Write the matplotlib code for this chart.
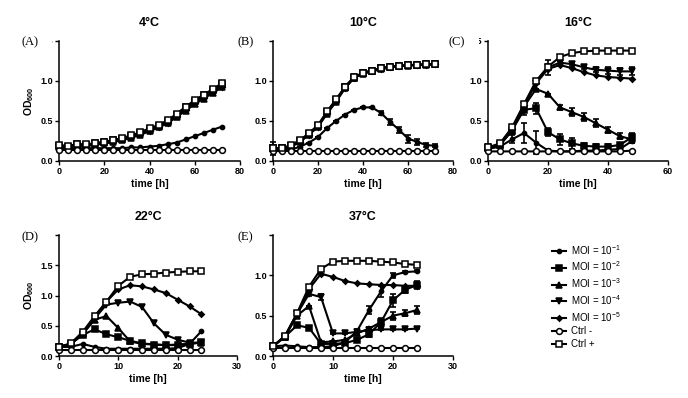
import matplotlib
matplotlib.use("Agg")
import matplotlib.pyplot as plt
from matplotlib.patches import Rectangle
from matplotlib.ticker import FormatStrFormatter

plt.rcParams['font.family'] = ['Liberation Sans', 'DejaVu Sans']
plt.rcParams['mathtext.default'] = 'regular'

# ---- data (OD600 over time) ----
series_names = ['MOI = 10$^{-1}$', 'MOI = 10$^{-2}$', 'MOI = 10$^{-3}$',
                'MOI = 10$^{-4}$', 'MOI = 10$^{-5}$', 'Ctrl -', 'Ctrl +']

# (A) 4 C
a_time = [0, 4, 8, 12, 16, 20, 24, 28, 32, 36, 40, 44, 48, 52, 56, 60, 64, 68, 72]
a_moi1 = [0.16, 0.15, 0.16, 0.16, 0.16, 0.16, 0.16, 0.16, 0.17, 0.17, 0.18, 0.19, 0.21, 0.23, 0.27, 0.31, 0.35, 0.39, 0.43]
a_moi2 = [0.19, 0.18, 0.21, 0.20, 0.22, 0.24, 0.26, 0.28, 0.31, 0.35, 0.40, 0.44, 0.50, 0.58, 0.67, 0.75, 0.82, 0.89, 0.96]
a_moi3 = [0.17, 0.17, 0.19, 0.19, 0.20, 0.22, 0.24, 0.26, 0.29, 0.33, 0.37, 0.42, 0.47, 0.55, 0.63, 0.71, 0.78, 0.85, 0.92]
a_moi4 = [0.18, 0.18, 0.20, 0.20, 0.21, 0.23, 0.25, 0.27, 0.30, 0.34, 0.39, 0.43, 0.49, 0.57, 0.65, 0.73, 0.80, 0.87, 0.94]
a_moi5 = [0.17, 0.17, 0.19, 0.19, 0.21, 0.22, 0.24, 0.27, 0.30, 0.34, 0.38, 0.43, 0.48, 0.56, 0.64, 0.72, 0.79, 0.86, 0.93]
a_neg = [0.14, 0.14, 0.14, 0.14, 0.14, 0.14, 0.14, 0.14, 0.14, 0.14, 0.14, 0.14, 0.14, 0.14, 0.14, 0.14, 0.14, 0.14, 0.14]
a_pos = [0.20, 0.19, 0.21, 0.21, 0.22, 0.24, 0.26, 0.29, 0.32, 0.36, 0.41, 0.45, 0.51, 0.59, 0.68, 0.76, 0.83, 0.90, 0.97]

# (B) 10 C
b_time = [0, 4, 8, 12, 16, 20, 24, 28, 32, 36, 40, 44, 48, 52, 56, 60, 64, 68, 72]
b_moi1 = [0.16, 0.14, 0.14, 0.18, 0.23, 0.30, 0.41, 0.50, 0.58, 0.64, 0.67, 0.67, 0.60, 0.49, 0.39, 0.28, 0.24, 0.20, 0.19]
b_moi2 = [0.16, 0.16, 0.19, 0.25, 0.34, 0.44, 0.61, 0.76, 0.92, 1.04, 1.10, 1.13, 1.16, 1.18, 1.19, 1.20, 1.20, 1.21, 1.21]
b_moi3 = [0.15, 0.15, 0.18, 0.24, 0.33, 0.43, 0.59, 0.74, 0.91, 1.04, 1.09, 1.12, 1.15, 1.17, 1.19, 1.19, 1.20, 1.20, 1.21]
b_moi4 = [0.16, 0.16, 0.19, 0.25, 0.34, 0.44, 0.60, 0.75, 0.92, 1.05, 1.10, 1.13, 1.16, 1.18, 1.19, 1.20, 1.20, 1.21, 1.21]
b_moi5 = [0.15, 0.15, 0.18, 0.24, 0.33, 0.43, 0.60, 0.75, 0.91, 1.04, 1.10, 1.13, 1.15, 1.17, 1.19, 1.20, 1.20, 1.20, 1.21]
b_neg = [0.12, 0.12, 0.12, 0.12, 0.12, 0.12, 0.12, 0.12, 0.12, 0.12, 0.12, 0.12, 0.12, 0.12, 0.12, 0.12, 0.12, 0.12, 0.12]
b_pos = [0.16, 0.16, 0.20, 0.26, 0.35, 0.45, 0.62, 0.77, 0.93, 1.05, 1.10, 1.13, 1.16, 1.18, 1.19, 1.20, 1.20, 1.21, 1.21]
b_moi1_err = [0.08, 0, 0, 0, 0, 0, 0, 0, 0, 0, 0, 0.01, 0.03, 0.04, 0.04, 0.05, 0.04, 0.03, 0.02]

# (C) 16 C
c_time = [0, 4, 8, 12, 16, 20, 24, 28, 32, 36, 40, 44, 48]
c_moi1 = [0.15, 0.18, 0.27, 0.35, 0.23, 0.13, 0.12, 0.12, 0.13, 0.13, 0.14, 0.15, 0.25]
c_moi2 = [0.16, 0.20, 0.38, 0.64, 0.66, 0.36, 0.27, 0.22, 0.19, 0.18, 0.18, 0.20, 0.30]
c_moi3 = [0.16, 0.20, 0.38, 0.68, 0.90, 0.84, 0.67, 0.61, 0.55, 0.47, 0.39, 0.31, 0.27]
c_moi4 = [0.17, 0.21, 0.40, 0.70, 0.98, 1.17, 1.23, 1.21, 1.17, 1.14, 1.13, 1.12, 1.12]
c_moi5 = [0.16, 0.21, 0.40, 0.70, 0.97, 1.15, 1.20, 1.16, 1.11, 1.07, 1.05, 1.04, 1.03]
c_neg = [0.12, 0.12, 0.12, 0.12, 0.12, 0.12, 0.12, 0.12, 0.12, 0.12, 0.12, 0.12, 0.13]
c_pos = [0.17, 0.22, 0.42, 0.71, 1.00, 1.18, 1.30, 1.35, 1.37, 1.38, 1.38, 1.38, 1.38]
c_moi1_err = [0, 0, 0.05, 0.12, 0.14, 0.02, 0, 0, 0, 0, 0, 0, 0.03]
c_moi2_err = [0.03, 0, 0.04, 0.06, 0.07, 0.05, 0.07, 0.07, 0.04, 0.03, 0.03, 0.03, 0.05]
c_moi3_err = [0, 0, 0, 0, 0, 0, 0.03, 0.05, 0.05, 0.05, 0.04, 0.04, 0.05]
c_moi4_err = [0, 0, 0, 0, 0, 0.09, 0.04, 0.02, 0.02, 0.03, 0.04, 0.04, 0.05]

# (D) 22 C
d_time = [0, 2, 4, 6, 8, 10, 12, 14, 16, 18, 20, 22, 24]
d_moi1 = [0.15, 0.15, 0.20, 0.15, 0.12, 0.12, 0.12, 0.12, 0.12, 0.12, 0.13, 0.20, 0.41]
d_moi2 = [0.15, 0.20, 0.35, 0.44, 0.36, 0.31, 0.25, 0.21, 0.19, 0.18, 0.19, 0.20, 0.23]
d_moi3 = [0.15, 0.20, 0.36, 0.60, 0.66, 0.46, 0.24, 0.20, 0.19, 0.18, 0.18, 0.20, 0.22]
d_moi4 = [0.15, 0.20, 0.37, 0.62, 0.85, 0.88, 0.90, 0.81, 0.54, 0.35, 0.27, 0.22, 0.22]
d_moi5 = [0.15, 0.20, 0.38, 0.64, 0.90, 1.10, 1.17, 1.15, 1.10, 1.04, 0.93, 0.82, 0.69]
d_neg = [0.10, 0.10, 0.10, 0.10, 0.10, 0.10, 0.10, 0.10, 0.10, 0.10, 0.10, 0.10, 0.10]
d_pos = [0.15, 0.21, 0.40, 0.66, 0.90, 1.16, 1.31, 1.35, 1.36, 1.38, 1.39, 1.40, 1.40]

# (E) 37 C
e_time = [0, 2, 4, 6, 8, 10, 12, 14, 16, 18, 20, 22, 24]
e_moi1 = [0.12, 0.13, 0.12, 0.11, 0.11, 0.12, 0.17, 0.31, 0.57, 0.80, 1.00, 1.04, 1.05]
e_moi2 = [0.12, 0.24, 0.38, 0.35, 0.15, 0.15, 0.16, 0.20, 0.27, 0.42, 0.69, 0.82, 0.88]
e_moi3 = [0.12, 0.24, 0.50, 0.62, 0.17, 0.18, 0.20, 0.28, 0.34, 0.42, 0.50, 0.53, 0.57]
e_moi4 = [0.12, 0.24, 0.52, 0.77, 0.73, 0.28, 0.28, 0.30, 0.32, 0.33, 0.33, 0.33, 0.34]
e_moi5 = [0.12, 0.25, 0.52, 0.83, 1.02, 0.98, 0.93, 0.90, 0.89, 0.88, 0.88, 0.87, 0.87]
e_neg = [0.10, 0.10, 0.10, 0.10, 0.10, 0.10, 0.10, 0.10, 0.10, 0.10, 0.10, 0.10, 0.10]
e_pos = [0.12, 0.25, 0.53, 0.86, 1.08, 1.17, 1.18, 1.18, 1.18, 1.17, 1.16, 1.14, 1.13]
e_moi1_err = [0, 0, 0, 0, 0, 0, 0, 0.02, 0.05, 0.07, 0.03, 0.01, 0.01]
e_moi2_err = [0, 0, 0.02, 0.02, 0, 0, 0, 0.02, 0.03, 0.04, 0.08, 0.04, 0.05]
e_moi3_err = [0, 0, 0, 0, 0, 0, 0, 0, 0.02, 0.05, 0.05, 0.04, 0.05]
e_moi4_err = [0, 0, 0, 0.03, 0.04, 0.01, 0.01, 0.01, 0.01, 0.01, 0.01, 0.01, 0.01]

# marker style per series: marker, size, face colour
styles = [('o', 3.0, 'black'), ('s', 4.2, 'black'), ('^', 4.3, 'black'),
          ('v', 4.3, 'black'), ('D', 2.8, 'black'), ('o', 4.2, 'white'),
          ('s', 4.6, 'white')]

panels = [
    ('4°C', '(A)', a_time, [a_moi1, a_moi2, a_moi3, a_moi4, a_moi5, a_neg, a_pos],
     [None] * 7, 80, 1.5, [0, 20, 40, 60, 80]),
    ('10°C', '(B)', b_time, [b_moi1, b_moi2, b_moi3, b_moi4, b_moi5, b_neg, b_pos],
     [b_moi1_err] + [None] * 6, 80, 1.5, [0, 20, 40, 60, 80]),
    ('16°C', '(C)', c_time, [c_moi1, c_moi2, c_moi3, c_moi4, c_moi5, c_neg, c_pos],
     [c_moi1_err, c_moi2_err, c_moi3_err, c_moi4_err, None, None, None], 60, 1.5, [0, 20, 40, 60]),
    ('22°C', '(D)', d_time, [d_moi1, d_moi2, d_moi3, d_moi4, d_moi5, d_neg, d_pos],
     [None] * 7, 30, 2.0, [0, 10, 20, 30]),
    ('37°C', '(E)', e_time, [e_moi1, e_moi2, e_moi3, e_moi4, e_moi5, e_neg, e_pos],
     [e_moi1_err, e_moi2_err, e_moi3_err, e_moi4_err, None, None, None], 30, 1.5, [0, 10, 20, 30]),
]

W, H = 688, 398
# axes boxes in pixels: left, top, right, bottom
boxes = [(59, 41, 240, 161), (273, 41, 453, 161), (488, 41, 668, 161),
         (59, 235, 237, 356), (273, 235, 453, 356)]
letter_pos = [(22, 42), (237, 42), (448, 42), (22, 237), (237, 237)]
# white patch behind each letter (hides the top y tick label): x0, x1
cover_x = [(18, 52), (232, 268), (444, 479), (18, 54), (232, 268)]

fig = plt.figure(figsize=(W / 100, H / 100), dpi=100)

handles = []
for i, (title, letter, t, ys, errs, xmax, ymax, xt) in enumerate(panels):
    l, tp, r, b = boxes[i]
    ax = fig.add_axes([l / W, 1 - b / H, (r - l) / W, (b - tp) / H])
    for j, (y, err) in enumerate(zip(ys, errs)):
        m, ms, fc = styles[j]
        if err is not None:
            ax.errorbar(t, y, yerr=err, fmt='none', ecolor='black', elinewidth=1.2,
                        capsize=2.2, capthick=1.2, clip_on=False, zorder=2)
        h, = ax.plot(t, y, color='black', lw=1.5, marker=m, ms=ms, mfc=fc,
                     mec='black', mew=1.1, clip_on=False, zorder=3 + j * 0.1,
                     label=series_names[j])
        if i == 0:
            handles.append(h)
    ax.set_xlim(0, xmax)
    ax.set_ylim(0, ymax)
    ax.set_xticks(xt)
    ax.set_yticks([k * 0.5 for k in range(int(ymax / 0.5) + 1)])
    ax.yaxis.set_major_formatter(FormatStrFormatter('%.1f'))
    for s in ['top', 'right']:
        ax.spines[s].set_visible(False)
    for s in ['left', 'bottom']:
        ax.spines[s].set_linewidth(1.1)
    ax.tick_params(direction='out', length=3, width=1.0, labelsize=6.5, pad=1.5)
    for lab in ax.get_xticklabels() + ax.get_yticklabels():
        lab.set_fontweight('bold')
    ax.set_title(title, fontsize=9, fontweight='bold', pad=11)
    ax.set_xlabel('time [h]', fontsize=7.5, fontweight='bold', labelpad=2)
    if i in (0, 3):
        ax.set_ylabel('OD$_{600}$', fontsize=7.5, fontweight='bold', labelpad=3)

    lx, ly = letter_pos[i]
    x0, x1 = cover_x[i]
    fig.patches.append(Rectangle((x0 / W, 1 - (ly + 8) / H), (x1 - x0) / W, 16 / H,
                                 transform=fig.transFigure, facecolor='white',
                                 edgecolor='none', zorder=4))
    fig.text(lx / W, 1 - ly / H, letter, family=['Liberation Serif', 'DejaVu Serif'],
             fontsize=9, ha='left', va='center', zorder=5)

fig.legend(handles=handles, loc='upper left', bbox_to_anchor=(548 / W, 1 - 239 / H),
           frameon=False, fontsize=7, handlelength=1.4, handletextpad=0.6,
           labelspacing=0.3, borderaxespad=0)

fig.savefig('out.png', dpi=100)
